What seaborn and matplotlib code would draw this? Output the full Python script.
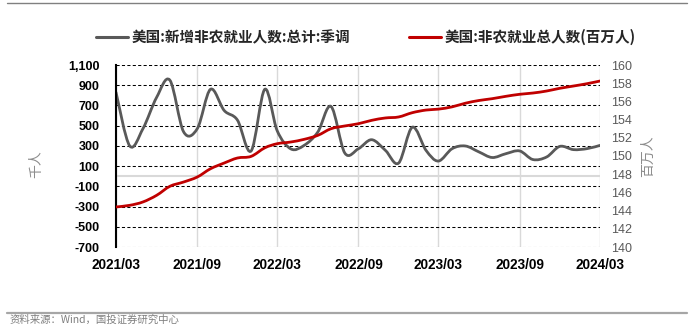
import numpy as np
import pandas as pd
import matplotlib
matplotlib.use("Agg")
import matplotlib.pyplot as plt
import matplotlib.dates as mdates
import matplotlib.ticker as mticker
from matplotlib.path import Path
from matplotlib.patches import PathPatch
from matplotlib.lines import Line2D
import seaborn as sns

# Monthly series, 2021/03 - 2024/03
months = pd.date_range("2021-03-01", "2024-03-01", freq="MS")
payroll_change = [830, 300, 470, 780, 950, 440, 470, 860, 650, 555, 250, 860,
                  450, 270, 305, 437, 690, 230, 272, 361, 256, 130, 485, 256,
                  150, 272, 299, 240, 185, 223, 250, 165, 190, 295, 263, 273, 305]
total_payroll = [144.40, 144.58, 144.95, 145.68, 146.67, 147.14, 147.69, 148.60,
                 149.23, 149.78, 149.96, 150.90, 151.35, 151.54, 151.83, 152.27,
                 153.00, 153.30, 153.55, 153.92, 154.18, 154.29, 154.76, 155.05,
                 155.15, 155.40, 155.80, 156.10, 156.30, 156.56, 156.78, 156.92,
                 157.14, 157.44, 157.69, 157.95, 158.24]
x_ticks = pd.date_range("2021-03-01", "2024-03-01", freq="6MS")
left_ticks = list(range(-700, 1101, 200))
right_ticks = list(range(140, 161, 2))

name_change = "美国:新增非农就业人数:总计:季调"
name_total = "美国:非农就业总人数(百万人)"
gray = "#595959"
red = "#C00000"

sns.set_theme(style="white")
plt.rcParams["font.family"] = ["Liberation Sans", "Noto Sans CJK SC", "DejaVu Sans"]
cjk = ["Noto Sans CJK SC", "DejaVu Sans"]

df = pd.DataFrame({"month": months, "change": payroll_change, "total": total_payroll})

fig = plt.figure(figsize=(6.96, 3.25), dpi=100)
ax = fig.add_axes([116 / 696, 1 - 247 / 325, 484 / 696, 182 / 325])
ax2 = ax.twinx()


def smooth_line(axis, line):
    """Replace a polyline with a Catmull-Rom Bezier curve through the same points."""
    pts = line.get_xydata().astype(float)
    pad = np.vstack([pts[:1], pts, pts[-1:]])
    verts = [tuple(pts[0])]
    codes = [Path.MOVETO]
    for i in range(len(pts) - 1):
        p0, p1, p2, p3 = pad[i], pad[i + 1], pad[i + 2], pad[i + 3]
        c1 = p1 + (p2 - p0) / 6.0
        c2 = p2 - (p3 - p1) / 6.0
        verts += [tuple(c1), tuple(c2), tuple(p2)]
        codes += [Path.CURVE4] * 3
    patch = PathPatch(Path(verts, codes), facecolor="none",
                      edgecolor=line.get_color(), lw=line.get_linewidth(),
                      capstyle="round", joinstyle="round", zorder=line.get_zorder())
    line.remove()
    axis.add_patch(patch)


sns.lineplot(data=df, x="month", y="change", ax=ax, color=gray, lw=2.0, legend=False)
smooth_line(ax, ax.lines[-1])
sns.lineplot(data=df, x="month", y="total", ax=ax2, color=red, lw=2.0, legend=False)
smooth_line(ax2, ax2.lines[-1])

# axes ranges and ticks
ax.set_xlim(months[0], months[-1])
ax.set_ylim(-700, 1100)
ax2.set_ylim(140, 160)
ax.set_yticks(left_ticks)
ax2.set_yticks(right_ticks)
ax.set_xticks(x_ticks)
ax.xaxis.set_major_formatter(mdates.DateFormatter("%Y/%m"))
ax.yaxis.set_major_formatter(mticker.FuncFormatter(lambda v, p: f"{int(v):,}"))
ax.set_xlabel("")
ax.set_ylabel("")
ax2.set_ylabel("")

# grid
ax.set_axisbelow(True)
ax.yaxis.grid(True, color="black", lw=0.75, linestyle=(0, (3, 2.2)))
ax.xaxis.grid(True, color="#d9d9d9", lw=1.0, linestyle="-")
ax.axhline(0, color="#d9d9d9", lw=1.5, zorder=1)

for s in ["top", "right", "bottom"]:
    ax.spines[s].set_visible(False)
    ax2.spines[s].set_visible(False)
ax2.spines["left"].set_visible(False)
ax.spines["left"].set_color("black")
ax.spines["left"].set_linewidth(1.5)

ax.tick_params(axis="x", length=0, pad=8, labelsize=9.8, labelcolor="black")
ax.tick_params(axis="y", length=0, pad=12, labelsize=9, labelcolor="black")
ax2.tick_params(axis="y", length=0, pad=8, labelsize=9, labelcolor="#595959")
for lbl in ax.get_xticklabels() + ax.get_yticklabels():
    lbl.set_fontweight("bold")

# axis unit labels
fig.text(36 / 696, 1 - 164 / 325, "千人", rotation=90, ha="center", va="center",
         color="#8c8c8c", fontsize=10, family=cjk, fontweight="light")
fig.text(648 / 696, 1 - 156 / 325, "百万人", rotation=90, ha="center", va="center",
         color="#8c8c8c", fontsize=10, family=cjk, fontweight="light")

# legend
handles = [Line2D([], [], color=gray, lw=2.2), Line2D([], [], color=red, lw=2.2)]
leg = fig.legend(handles, [name_change, name_total], loc="center left",
                 bbox_to_anchor=(96 / 696, 1 - 37 / 325), ncol=2, frameon=False,
                 borderpad=0, borderaxespad=0, handlelength=2.2, handletextpad=0.25,
                 columnspacing=4.0, prop={"family": cjk, "size": 10.5, "weight": "bold"})

# frame lines and source note
fig.add_artist(Line2D([7 / 696, 687 / 696], [1 - 3 / 325] * 2, color="#808080", lw=1.0))
fig.add_artist(Line2D([7 / 696, 687 / 696], [1 - 313 / 325] * 2, color="#a6a6a6", lw=1.6))
fig.text(10 / 696, 1 - 319.5 / 325, "资料来源：Wind，国投证券研究中心", ha="left", va="center",
         color="#7f7f7f", fontsize=7.5, family=cjk)

fig.savefig("out.png", dpi=100)
